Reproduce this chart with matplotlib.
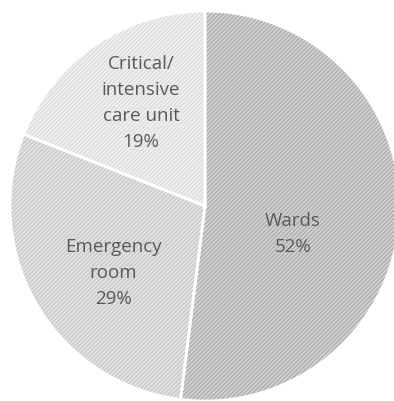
import matplotlib.pyplot as plt
from matplotlib.patches import Wedge
import numpy as np

labels = ["Wards", "Emergency\nroom", "Critical/\nintensive\ncare unit"]
shares = [52, 29, 19]
face_colors = ["#d6d6d6", "#e5e5e5", "#f2f2f2"]
hatch_colors = ["#acacac", "#c8c8c8", "#dcdcdc"]
# label placement (angle in degrees, radius as fraction)
label_pos = [(-17, 0.47), (215.6, 0.58), (121.6, 0.626)]

plt.rcParams["hatch.linewidth"] = 1.0

fig = plt.figure(figsize=(3.94, 4.02), dpi=100)
ax = fig.add_axes([10 / 394, 0 / 402, 390 / 394, 390 / 402])

wedges, _ = ax.pie(shares, startangle=90, counterclock=False, radius=1,
                   wedgeprops=dict(edgecolor="none", linewidth=0))
for w, fc, hc in zip(wedges, face_colors, hatch_colors):
    w.set_facecolor(fc)
    w.set_zorder(1)
    # hatch drawn on its own patch so it can have its own colour
    ax.add_patch(Wedge(w.center, w.r, w.theta1, w.theta2, facecolor="none",
                       edgecolor=hc, hatch="////////", linewidth=0, zorder=1.5))
for w in wedges:
    ax.add_patch(Wedge(w.center, w.r, w.theta1, w.theta2, facecolor="none",
                       edgecolor="white", linewidth=2, zorder=2))

for lab, pct, (ang, r) in zip(labels, shares, label_pos):
    x = r * np.cos(np.radians(ang))
    y = r * np.sin(np.radians(ang))
    ax.text(x, y, f"{lab}\n{pct}%", ha="center", va="center",
            fontsize=13.5, color="#595959", family="Open Sans",
            linespacing=1.55, zorder=3)

ax.set_xlim(-1, 1)
ax.set_ylim(-1, 1)
ax.axis("off")
fig.savefig("out.png", dpi=100)
